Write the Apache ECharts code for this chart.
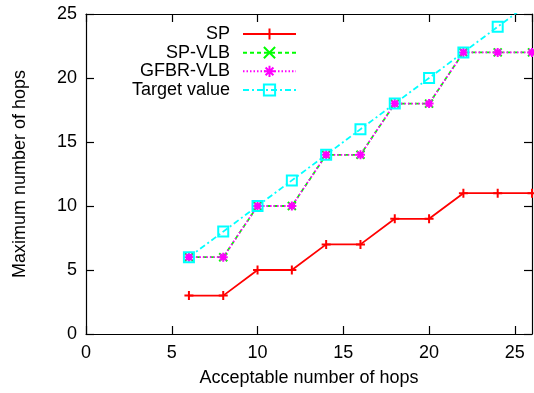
<!DOCTYPE html>
<html><head><meta charset="utf-8">
<script src="https://cdn.jsdelivr.net/npm/echarts@6/dist/echarts.min.js"></script>
<style>html,body{margin:0;padding:0;background:#fff}#c{width:534px;height:393px}</style>
</head><body><div id="c"></div>
<script>
var xs = [6, 8, 10, 12, 14, 16, 18, 20, 22, 24, 26];
var sp = [3, 3, 5, 5, 7, 7, 9, 9, 11, 11, 11];
var spVlb = [6, 6, 10, 10, 14, 14, 18, 18, 22, 22, 22];
var gfbrVlb = [6, 6, 10, 10, 14, 14, 18, 18, 22, 22, 22];
var target = [6, 8, 10, 12, 14, 16, 18, 20, 22, 24, 26];
var seriesNames = ['SP', 'SP-VLB', 'GFBR-VLB', 'Target value'];

function pairs(ys) { return xs.map(function (x, i) { return [x, ys[i]]; }); }
var FONT = 'Liberation Sans, Arial, Helvetica, sans-serif';
var FS = 18;

var plusP = 'path://M0 5L10 5M5 0L5 10';
var crossP = 'path://M0 0L10 10M10 0L0 10';
var starP = 'path://M0 5L10 5M5 0L5 10M1.5 1.5L8.5 8.5M8.5 1.5L1.5 8.5';
var sqP = 'path://M0 0L10 0L10 10L0 10Z';

function mk(name, ys, color, type, sym, size) {
  return {
    name: name, type: 'line', data: pairs(ys),
    symbol: sym, symbolSize: size, showAllSymbol: true,
    lineStyle: { color: color, width: 1.8, type: type },
    itemStyle: { color: 'rgba(0,0,0,0)', borderColor: color, borderWidth: 2 },
    emphasis: { disabled: true }, animation: false
  };
}

var chart = echarts.init(document.getElementById('c'), null, { renderer: 'canvas' });
var axisCommon = {
  type: 'value', min: 0, interval: 5,
  axisLine: { show: true, onZero: false, lineStyle: { color: '#000', width: 1.2 } },
  axisTick: { show: true, inside: true, length: 8, lineStyle: { color: '#000', width: 1.2 } },
  splitLine: { show: false }
};
chart.setOption({
  animation: false,
  backgroundColor: '#fff',
  grid: { left: 86, right: 2, top: 14, bottom: 59 },
  legend: {
    orient: 'vertical', left: 105, top: 20, align: 'right',
    itemWidth: 53, itemHeight: 14, itemGap: 0.67,
    data: seriesNames,
    selectedMode: false,
    formatter: '{a|{name}}',
    textStyle: { fontFamily: FONT, fontSize: FS, color: '#000',
      rich: { a: { width: 120, align: 'right', fontFamily: FONT, fontSize: FS, height: 14, lineHeight: 14, padding: [0, 8, 0, 0] } } }
  },
  xAxis: [
    Object.assign({}, axisCommon, {
      max: 26, position: 'bottom',
      name: 'Acceptable number of hops', nameLocation: 'middle', nameGap: 35,
      nameTextStyle: { fontFamily: FONT, fontSize: FS, color: '#000' },
      axisLabel: { fontFamily: FONT, fontSize: FS, color: '#000', margin: 10, showMaxLabel: false }
    }),
    Object.assign({}, axisCommon, { max: 26, position: 'top', axisLabel: { show: false } })
  ],
  yAxis: [
    Object.assign({}, axisCommon, {
      max: 25, position: 'left',
      name: 'Maximum number of hops', nameLocation: 'middle', nameGap: 57, nameRotate: 90,
      nameTextStyle: { fontFamily: FONT, fontSize: FS, color: '#000' },
      axisLabel: { fontFamily: FONT, fontSize: FS, color: '#000', margin: 9 }
    }),
    Object.assign({}, axisCommon, { max: 25, position: 'right', axisLabel: { show: false } })
  ],
  series: [
    mk(seriesNames[0], sp, '#ff0000', 'solid', plusP, 9),
    mk(seriesNames[1], spVlb, '#00ff00', [4, 3], crossP, 8),
    mk(seriesNames[2], gfbrVlb, '#ff00ff', [1.5, 2], starP, 9),
    mk(seriesNames[3], target, '#00ffff', [6, 3, 2, 3], sqP, 10)
  ]
});
</script></body></html>
